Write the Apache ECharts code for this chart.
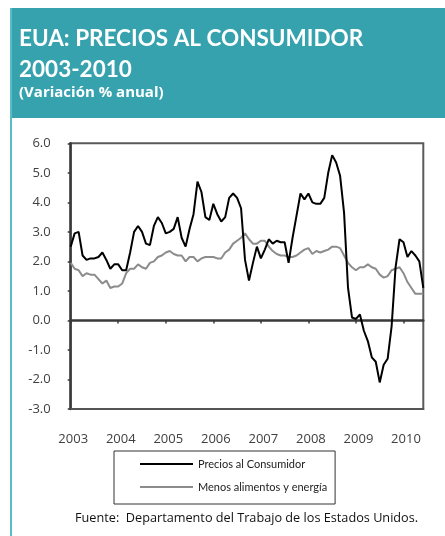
<!DOCTYPE html>
<html>
<head>
<meta charset="utf-8">
<script src="https://cdn.jsdelivr.net/npm/echarts@6/dist/echarts.min.js"></script>
<style>
html,body{margin:0;padding:0;background:#fff;}
#c{width:445px;height:536px;}
</style>
</head>
<body>
<div id="c"></div>
<script>
// Years shown on the x axis
const years = ['2003','2004','2005','2006','2007','2008','2009','2010'];
// Monthly categories Jan 2003 - Jun 2010
const months = [];
for (let y = 2003; y <= 2010; y++) {
  for (let m = 1; m <= 12; m++) {
    if (y === 2010 && m > 6) break;
    months.push(y + '-' + (m < 10 ? '0' + m : m));
  }
}
// Precios al Consumidor (% anual)
const cpi = [
  2.5, 2.95, 3.0, 2.2, 2.05, 2.1, 2.1, 2.15, 2.3, 2.05, 1.75, 1.9,
  1.9, 1.7, 1.7, 2.3, 3.0, 3.2, 3.0, 2.6, 2.55, 3.2, 3.5, 3.3,
  2.95, 3.0, 3.1, 3.5, 2.8, 2.5, 3.1, 3.6, 4.7, 4.35, 3.5, 3.4,
  3.95, 3.6, 3.35, 3.5, 4.15, 4.3, 4.15, 3.8, 2.05, 1.35, 1.95, 2.5,
  2.1, 2.4, 2.75, 2.6, 2.7, 2.65, 2.65, 1.95, 2.8, 3.55, 4.3, 4.1,
  4.3, 4.0, 3.95, 3.95, 4.15, 5.0, 5.6, 5.35, 4.9, 3.65, 1.1, 0.1,
  0.05, 0.2, -0.35, -0.7, -1.25, -1.4, -2.1, -1.5, -1.3, -0.2, 1.8, 2.75,
  2.65, 2.15, 2.35, 2.2, 2.0, 1.1
];
// Menos alimentos y energía (% anual)
const core = [
  1.95, 1.75, 1.7, 1.5, 1.6, 1.55, 1.55, 1.4, 1.25, 1.35, 1.1, 1.15,
  1.15, 1.25, 1.6, 1.75, 1.75, 1.9, 1.8, 1.75, 1.95, 2.0, 2.15, 2.2,
  2.3, 2.35, 2.25, 2.2, 2.2, 2.0, 2.15, 2.15, 2.0, 2.1, 2.15, 2.15,
  2.15, 2.1, 2.1, 2.3, 2.4, 2.6, 2.7, 2.8, 2.95, 2.75, 2.6, 2.6,
  2.7, 2.7, 2.5, 2.35, 2.25, 2.2, 2.2, 2.15, 2.15, 2.2, 2.3, 2.4,
  2.45, 2.25, 2.35, 2.3, 2.35, 2.4, 2.5, 2.5, 2.45, 2.2, 1.95, 1.8,
  1.7, 1.8, 1.8, 1.9, 1.8, 1.75, 1.55, 1.45, 1.5, 1.7, 1.75, 1.8,
  1.6, 1.3, 1.1, 0.9, 0.9, 0.9
];
const seriesNames = ['Precios al Consumidor', 'Menos alimentos y energía'];

const chart = echarts.init(document.getElementById('c'), null, {renderer: 'canvas'});
const isYear = (idx) => idx % 12 === 0;
chart.setOption({
  backgroundColor: '#ffffff',
  animation: false,
  grid: {
    left: 70.7, top: 143.3, right: 21.7, bottom: 127,
    show: true, borderColor: '#5a5a5a', borderWidth: 2, backgroundColor: 'transparent'
  },
  xAxis: [
    {
      type: 'category', data: months, boundaryGap: false,
      axisLine: {onZero: true, lineStyle: {color: '#3a3a3a', width: 2.5}},
      axisTick: {show: true, interval: (i) => isYear(i), length: 3, lineStyle: {color: '#3a3a3a', width: 1.5}},
      axisLabel: {show: false},
      splitLine: {show: false}
    },
    {
      type: 'category', data: months, boundaryGap: false, position: 'bottom',
      axisLine: {show: true, onZero: false, lineStyle: {color: '#555', width: 2}},
      axisTick: {show: false},
      axisLabel: {
        show: true, interval: (i) => isYear(i), margin: 24, padding: [0, 0, 0, 5],
        color: '#404040', fontSize: 13, fontFamily: 'Open Sans',
        formatter: (v) => years[years.indexOf(v.slice(0, 4))]
      },
      splitLine: {show: false}
    }
  ],
  yAxis: {
    type: 'value', min: -3, max: 6, interval: 1,
    axisLine: {show: true, onZero: false, lineStyle: {color: '#3a3a3a', width: 2.5}},
    axisTick: {show: true, length: 3, lineStyle: {color: '#3a3a3a', width: 1.5}},
    axisLabel: {color: '#404040', fontSize: 13, fontFamily: 'Open Sans', margin: 20,
      formatter: (v) => v.toFixed(1)},
    splitLine: {show: false}
  },
  legend: {
    orient: 'vertical', left: 114, top: 451,
    data: seriesNames,
    icon: 'rect',
    borderColor: '#333', borderWidth: 1, borderRadius: 0,
    padding: [6, 8, 10, 26], itemGap: 9, itemWidth: 53, itemHeight: 2,
    textStyle: {color: '#222', fontSize: 11, fontFamily: 'Lato', lineHeight: 14}
  },
  series: [
    {
      name: seriesNames[0], type: 'line', data: cpi, xAxisIndex: 0,
      symbol: 'none', lineStyle: {color: '#000', width: 2}, itemStyle: {color: '#000'}, z: 3
    },
    {
      name: seriesNames[1], type: 'line', data: core, xAxisIndex: 0,
      symbol: 'none', lineStyle: {color: '#8c8c8c', width: 2}, itemStyle: {color: '#8c8c8c'}, z: 2
    }
  ],
  graphic: [
    {type: 'rect', left: 10, top: 8, shape: {width: 435, height: 110}, style: {fill: '#35a2ae'}, silent: true},
    {type: 'rect', left: 10, top: 8, shape: {width: 2, height: 528}, style: {fill: '#5cbcc5'}, silent: true},
    {type: 'text', left: 19, top: 27, style: {text: 'EUA: PRECIOS AL CONSUMIDOR', fill: '#fff', font: 'bold 22.5px Lato'}},
    {type: 'text', left: 19, top: 58, style: {text: '2003-2010', fill: '#fff', font: 'bold 22.5px Lato'}},
    {type: 'text', left: 19, top: 85, style: {text: '(Variación % anual)', fill: '#fff', font: 'bold 15px "Open Sans"'}},
    {type: 'text', left: 75, top: 512, style: {text: 'Fuente:  Departamento del Trabajo de los Estados Unidos.', fill: '#111', font: '12.7px "Open Sans"'}}
  ]
});
</script>
</body>
</html>
